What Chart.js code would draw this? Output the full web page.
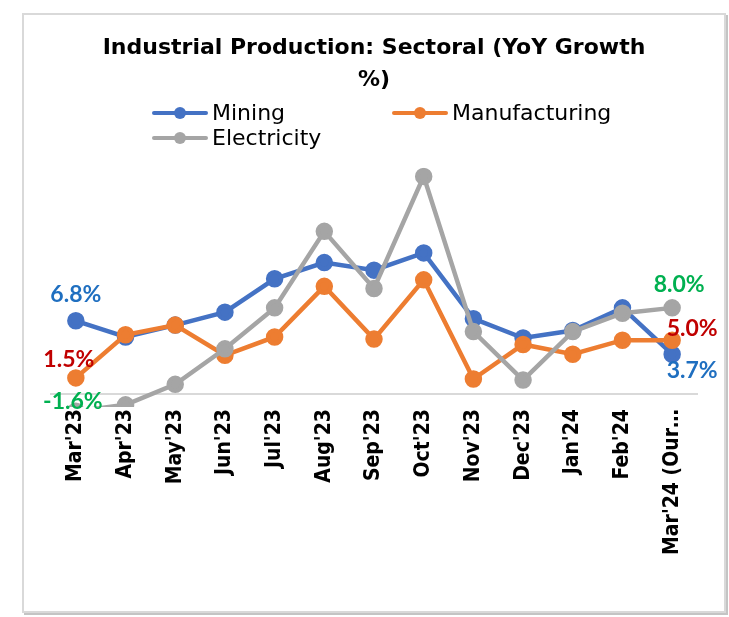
<!DOCTYPE html>
<html>
<head>
<meta charset="utf-8">
<script src="https://cdn.jsdelivr.net/npm/chart.js@4.4.1/dist/chart.umd.min.js"></script>
<style>
  html, body { margin: 0; padding: 0; background: #fff; }
  body { width: 729px; height: 617px; position: relative; overflow: hidden; }
  #frame {
    position: absolute; left: 22px; top: 13px; width: 700px; height: 596px;
    border: 2px solid #d9d9d9; box-shadow: 2px 2px 0 #c4c4c4;
  }
  #chart { position: absolute; left: 0; top: 0; }
  .lg { position: absolute; display: flex; align-items: center;
        font: 22px "DejaVu Sans", sans-serif; color: #000; }
  .lg .key { position: relative; width: 56px; height: 14px; margin-right: 4px; }
  .lg .key i { position: absolute; left: 0; right: 0; top: 5px; height: 4.5px; border-radius: 2px; }
  .lg .key b { position: absolute; left: 22px; top: 1px; width: 12px; height: 12px; border-radius: 50%; }
</style>
</head>
<body>
<div id="frame"></div>
<canvas id="chart" width="729" height="617"></canvas>
<div id="legend"></div>
<script>
// ===== 鉱工業生産：部門別（前年比％） =====

const months = ["Mar'23", "Apr'23", "May'23", "Jun'23", "Jul'23", "Aug'23", "Sep'23",
                "Oct'23", "Nov'23", "Dec'23", "Jan'24", "Feb'24", "Mar'24 (Our…"];
const mining        = [6.8, 5.3, 6.4, 7.6, 10.7, 12.2, 11.5, 13.1, 7.0, 5.2, 5.9, 8.0, 3.7];
const manufacturing = [1.5, 5.5, 6.4, 3.6, 5.3, 10.0, 5.1, 10.6, 1.4, 4.6, 3.7, 5.0, 5.0];
const electricity   = [-1.6, -1.0, 0.9, 4.2, 8.0, 15.1, 9.8, 20.2, 5.8, 1.3, 5.8, 7.5, 8.0];

const seriesNames  = ['Mining', 'Manufacturing', 'Electricity'];
const seriesColors = ['#4472c4', '#ed7d31', '#a5a5a5'];
const labelColors  = ['#1f6fc0', '#c00000', '#00b050'];

// 両端の値だけラベル表示（[最初, 最後] のずらし量）
const endOffsets = [
  [[0, -26], [20, 16]],
  [[-7, -18], [20, -12]],
  [[-3, -8], [7, -23]]
];

const endLabels = {
  id: 'endLabels',
  afterDatasetsDraw(chart) {
    const ctx = chart.ctx;
    ctx.save();
    ctx.font = 'bold 23px Lato, sans-serif';
    ctx.textAlign = 'center';
    ctx.textBaseline = 'middle';
    chart.data.datasets.forEach((ds, di) => {
      const pts = chart.getDatasetMeta(di).data;
      [0, pts.length - 1].forEach((idx, k) => {
        const p = pts[idx];
        const [dx, dy] = endOffsets[di][k];
        ctx.fillStyle = labelColors[di];
        ctx.fillText(ds.data[idx].toFixed(1) + '%', p.x + dx, Math.min(p.y, chart.chartArea.bottom + 3) + dy);
      });
    });
    ctx.restore();
  }
};

function makeDataset(i, data) {
  return {
    label: seriesNames[i], data,
    borderColor: seriesColors[i], backgroundColor: seriesColors[i],
    borderWidth: 4.5, pointRadius: 6.5, pointHoverRadius: 6.5,
    order: 2 - i, clip: 0
  };
}

new Chart(document.getElementById('chart'), {
  type: 'line',
  data: {
    labels: months,
    datasets: [makeDataset(0, mining), makeDataset(1, manufacturing), makeDataset(2, electricity)]
  },
  options: {
    responsive: false, animation: false,
    layout: { padding: { left: 51, right: 32, top: 0, bottom: 210 } },
    plugins: {
      legend: { display: false },
      tooltip: { enabled: false },
      title: {
        display: true,
        text: ['Industrial Production: Sectoral (YoY Growth', '%)'],
        color: '#000',
        font: { family: '"DejaVu Sans", sans-serif', size: 22, weight: 'bold', lineHeight: 1.45 },
        padding: { top: 32, bottom: 72 }
      }
    },
    scales: {
      x: {
        position: { y: 0 },
        offset: true,
        grid: { display: false, drawTicks: false },
        border: { display: true, color: '#d9d9d9', width: 2 },
        ticks: {
          color: '#000', padding: 15, maxRotation: 90, minRotation: 90, autoSkip: false,
          font: { family: '"DejaVu Sans Condensed", "DejaVu Sans", sans-serif', size: 21, weight: 'bold' }
        }
      },
      y: { display: false, min: -1.2, max: 21 }
    }
  },
  plugins: [endLabels]
});

// 凡例（Excel 風に2列配置）
const legendPos = [[152, 100], [392, 100], [152, 125]];
const legendEl = document.getElementById('legend');
seriesNames.forEach((name, i) => {
  const d = document.createElement('div');
  d.className = 'lg';
  d.style.left = legendPos[i][0] + 'px';
  d.style.top = legendPos[i][1] + 'px';
  d.innerHTML = '<span class="key"><i style="background:' + seriesColors[i] + '"></i><b style="background:' +
    seriesColors[i] + '"></b></span>' + name;
  legendEl.appendChild(d);
});
</script>
</body>
</html>
